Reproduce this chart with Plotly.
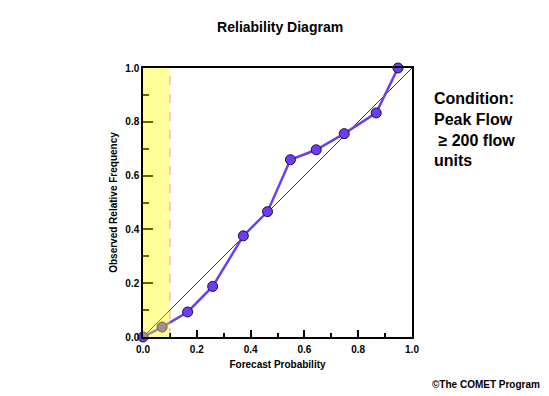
import plotly.graph_objects as go

forecast_prob = [0.0, 0.071, 0.166, 0.259, 0.373, 0.463, 0.548, 0.644, 0.748, 0.867, 0.948]
observed_freq = [0.0, 0.037, 0.093, 0.188, 0.376, 0.466, 0.659, 0.696, 0.756, 0.833, 1.0]
diag = [0.0, 1.0]
no_skill_x = 0.1
tick_vals = [0.0, 0.2, 0.4, 0.6, 0.8, 1.0]
tick_text = ["0.0", "0.2", "0.4", "0.6", "0.8", "1.0"]

FONT = "Liberation Sans, Arial, sans-serif"
purple = "#6B3FF0"

fig = go.Figure()
fig.add_trace(go.Scatter(x=diag, y=diag, mode="lines",
                         line=dict(color="black", width=0.8), hoverinfo="skip",
                         showlegend=False, cliponaxis=False))
fig.add_trace(go.Scatter(x=forecast_prob, y=observed_freq, mode="lines+markers",
                         line=dict(color=purple, width=2.5),
                         marker=dict(size=10, color=purple,
                                     line=dict(color="#1a0a50", width=1)),
                         showlegend=False, cliponaxis=False))

fig.add_shape(type="rect", xref="x", yref="y", x0=0, x1=no_skill_x, y0=0, y1=1,
              fillcolor="#FFFF00", opacity=0.4, line=dict(width=0), layer="above")
fig.add_shape(type="line", xref="x", yref="y", x0=no_skill_x, x1=no_skill_x, y0=0, y1=1,
              line=dict(color="#FF8080", width=1, dash="dash"), layer="below")

axis_common = dict(range=[0, 1], tickvals=tick_vals, ticktext=tick_text,
                   showgrid=False, zeroline=False, showline=True, linecolor="black",
                   linewidth=1.5, mirror=True, ticks="inside", tickcolor="black",
                   automargin=False,
                   tickfont=dict(family=FONT, size=10, color="black", weight="bold"))

fig.update_xaxes(**axis_common, ticklen=7, tickwidth=2, ticklabelstandoff=2,
                 minor=dict(dtick=0.1, ticks="inside", ticklen=4, tickcolor="black", tickwidth=2),
                 title=dict(text="Forecast Probability",
                            font=dict(family=FONT, size=10, color="black", weight="bold"),
                            standoff=7))
fig.update_yaxes(**axis_common, ticklen=10, tickwidth=2,
                 minor=dict(dtick=0.1, ticks="inside", ticklen=6, tickcolor="black", tickwidth=2),
                 title=dict(text="Observed Relative Frequency",
                            font=dict(family=FONT, size=10, color="black", weight="bold"),
                            standoff=6))

fig.add_annotation(text="Condition:<br>Peak Flow<br> ≥ 200 flow<br>units",
                   xref="paper", yref="paper", x=1.075, y=0.925, xanchor="left", yanchor="top",
                   showarrow=False, align="left",
                   font=dict(family=FONT, size=16, color="black", weight="bold"))
fig.add_annotation(text="©The COMET Program", xref="paper", yref="paper",
                   x=1.483, y=-0.178, xanchor="right", yanchor="middle", showarrow=False,
                   font=dict(family=FONT, size=10, color="black", weight="bold"))

fig.update_layout(
    width=541, height=388,
    margin=dict(l=135, r=137, t=60, b=59, autoexpand=False),
    paper_bgcolor="white", plot_bgcolor="white",
    title=dict(text="Reliability Diagram", x=0.503, xanchor="center", y=0.951, yanchor="middle",
               font=dict(family=FONT, size=14, color="black", weight="bold")),
)

fig.write_html("out.html")
